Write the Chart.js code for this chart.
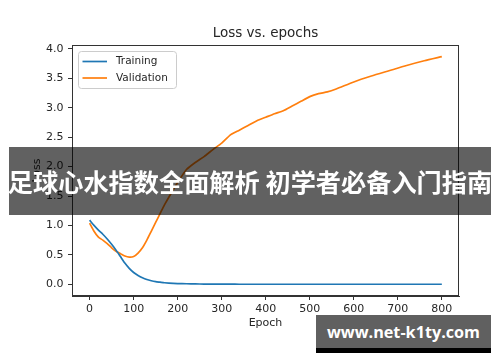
<!DOCTYPE html>
<html>
<head>
<meta charset="utf-8">
<script src="https://cdn.jsdelivr.net/npm/chart.js@4/dist/chart.umd.min.js"></script>
<style>
  html, body { margin: 0; padding: 0; background: #fff; }
  #wrap { position: relative; width: 500px; height: 362px; overflow: hidden; }
  #banner {
    position: absolute; left: 9px; top: 147px; width: 482px; height: 68px;
    background: rgba(0,0,0,0.62); color: #fff;
    font-family: "Noto Sans CJK SC", sans-serif; font-weight: bold; font-size: 25.2px;
    display: flex; align-items: center; justify-content: center; white-space: nowrap;
    letter-spacing: 0px;
  }
  #mark {
    position: absolute; left: 316px; top: 315px; width: 175px; height: 33px;
    background: rgb(96,96,96); border-bottom: 5px solid #000; color: #fff;
    font-family: "Open Sans", "Noto Sans", sans-serif; font-weight: bold; font-size: 16.2px;
    display: flex; align-items: center; justify-content: center; white-space: nowrap;
  }
</style>
</head>
<body>
<div id="wrap">
  <canvas id="c" width="500" height="362"></canvas>
  <div id="banner">足球心水指数全面解析 初学者必备入门指南</div>
  <div id="mark">www.net-k1ty.com</div>
</div>
<script>
const chartTitle = "Loss vs. epochs";
const xAxisTitle = "Epoch";
const yAxisTitle = "Loss";
const seriesNames = ["Training", "Validation"];
const seriesColors = ["#1f77b4", "#ff7f0e"];

const epochs = [0,10,20,30,40,50,60,70,80,90,100,110,120,130,140,150,160,170,180,200,220,240,260,280,300,320,340,360,380,400,420,440,460,480,500,520,540,560,600,640,680,720,760,800];

const trainingLoss = [1.09,1.00,0.92,0.85,0.77,0.68,0.58,0.47,0.36,0.27,0.20,0.15,0.11,0.08,0.06,0.045,0.035,0.025,0.02,0.012,0.008,0.005,0.003,0.002,0.001,0.001,0,0,0,0,0,0,0,0,0,0,0,0,0,0,0,0,0,0];

const validationLoss = [1.04,0.90,0.80,0.75,0.69,0.62,0.56,0.52,0.48,0.46,0.47,0.53,0.62,0.75,0.90,1.05,1.20,1.35,1.48,1.73,1.95,2.07,2.17,2.29,2.40,2.54,2.62,2.70,2.78,2.84,2.90,2.95,3.03,3.11,3.19,3.24,3.27,3.32,3.44,3.54,3.63,3.72,3.80,3.87];

const xTickValues = [0,100,200,300,400,500,600,700,800];
const yTickValues = [0,0.5,1.0,1.5,2.0,2.5,3.0,3.5,4.0];

const FONT = "'DejaVu Sans', sans-serif";
const TXT = "#262626";
const SPINE = "#333";

const framePlugin = {
  id: 'frame',
  afterDraw(chart) {
    const {ctx, chartArea: a} = chart;
    ctx.save();
    ctx.strokeStyle = SPINE; ctx.lineWidth = 1;
    ctx.strokeRect(Math.round(a.left) + 0.5, Math.round(a.top) + 0.5, Math.round(a.right - a.left) - 1, Math.round(a.bottom - a.top) - 1);
    ctx.fillStyle = TXT;
    ctx.font = "13.5px " + FONT;
    ctx.textAlign = 'center'; ctx.textBaseline = 'middle';
    ctx.fillText(chartTitle, (a.left + a.right) / 2, 33);
    const lx = a.left + 6.5, ly = a.top + 6.5, lw = 98, lh = 37, r = 3;
    ctx.beginPath();
    ctx.moveTo(lx + r, ly); ctx.lineTo(lx + lw - r, ly); ctx.arcTo(lx + lw, ly, lx + lw, ly + r, r);
    ctx.lineTo(lx + lw, ly + lh - r); ctx.arcTo(lx + lw, ly + lh, lx + lw - r, ly + lh, r);
    ctx.lineTo(lx + r, ly + lh); ctx.arcTo(lx, ly + lh, lx, ly + lh - r, r);
    ctx.lineTo(lx, ly + r); ctx.arcTo(lx, ly, lx + r, ly, r); ctx.closePath();
    ctx.fillStyle = 'rgba(255,255,255,0.8)'; ctx.fill();
    ctx.strokeStyle = '#cccccc'; ctx.lineWidth = 1; ctx.stroke();
    ctx.font = "10.5px " + FONT;
    ctx.textAlign = 'left'; ctx.textBaseline = 'middle';
    chart.data.datasets.forEach((ds, i) => {
      const yy = ly + 10 + i * 16.5;
      ctx.strokeStyle = ds.borderColor; ctx.lineWidth = 1.7;
      ctx.beginPath(); ctx.moveTo(lx + 4, yy); ctx.lineTo(lx + 28.5, yy); ctx.stroke();
      ctx.fillStyle = TXT;
      ctx.fillText(ds.label, lx + 37.5, yy);
    });
    ctx.restore();
  }
};

new Chart(document.getElementById('c'), {
  type: 'line',
  data: {
    datasets: [
      { label: seriesNames[0], data: epochs.map((e, i) => ({x: e, y: trainingLoss[i]})), borderColor: seriesColors[0], backgroundColor: seriesColors[0], borderWidth: 1.7, pointRadius: 0, tension: 0.2, fill: false },
      { label: seriesNames[1], data: epochs.map((e, i) => ({x: e, y: validationLoss[i]})), borderColor: seriesColors[1], backgroundColor: seriesColors[1], borderWidth: 1.7, pointRadius: 0, tension: 0.2, fill: false }
    ]
  },
  options: {
    responsive: false,
    animation: false,
    events: [],
    layout: { padding: { top: 45, right: 41, left: 0, bottom: 0 } },
    plugins: { legend: { display: false }, tooltip: { enabled: false }, title: { display: false } },
    scales: {
      x: {
        type: 'linear', min: -40, max: 839,
        afterFit(s) { s.height = 66; },
        afterBuildTicks(s) { s.ticks = xTickValues.map(v => ({value: v})); },
        ticks: { color: TXT, font: { family: FONT, size: 11 }, padding: 3, maxRotation: 0, autoSkip: false, callback: v => String(v) },
        grid: { drawOnChartArea: false, drawTicks: true, tickLength: 4, color: SPINE, tickWidth: 1 },
        border: { display: true, color: SPINE, width: 1 },
        title: { display: true, text: xAxisTitle, color: TXT, font: { family: FONT, size: 11 }, padding: { top: 0, bottom: 32.4 } }
      },
      y: {
        type: 'linear', min: -0.2, max: 4.068,
        afterFit(s) { s.width = 72; },
        afterBuildTicks(s) { s.ticks = yTickValues.map(v => ({value: v})); },
        ticks: { color: TXT, font: { family: FONT, size: 11 }, padding: 4.5, autoSkip: false, callback: v => Number(v).toFixed(1) },
        grid: { drawOnChartArea: false, drawTicks: true, tickLength: 4, color: SPINE, tickWidth: 1 },
        border: { display: true, color: SPINE, width: 1 },
        title: { display: true, text: yAxisTitle, color: TXT, font: { family: FONT, size: 11 }, padding: { top: 31, bottom: 0 } }
      }
    }
  },
  plugins: [framePlugin]
});
</script>
</body>
</html>
